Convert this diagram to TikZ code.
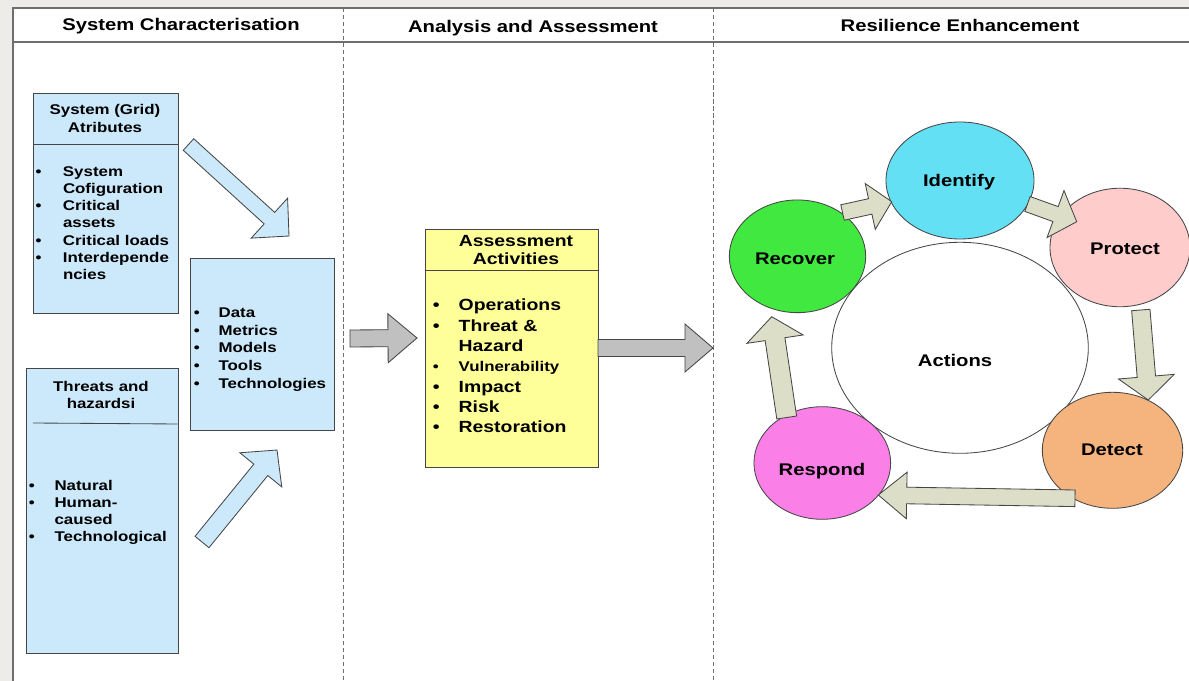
\documentclass[tikz,border=0pt]{standalone}
\usepackage{fontspec}
\setmainfont{Liberation Sans}[FakeStretch=1.2]
\usetikzlibrary{shapes.geometric,calc}
\definecolor{bgray}{RGB}{237,236,233}
\definecolor{framec}{RGB}{110,110,110}
\definecolor{boxl}{RGB}{70,70,70}
\definecolor{lblue}{RGB}{204,233,251}
\definecolor{lyellow}{RGB}{255,255,153}
\definecolor{garrow}{RGB}{192,192,192}
\definecolor{rarrow}{RGB}{220,222,200}
\definecolor{cIdent}{RGB}{100,224,245}
\definecolor{cProt}{RGB}{255,204,204}
\definecolor{cRec}{RGB}{64,232,64}
\definecolor{cDet}{RGB}{245,180,125}
\definecolor{cResp}{RGB}{250,128,232}
\newcommand\pxu{0.025cm}
\newcommand\barrow[6][]{%
  \pgfmathsetlengthmacro\baH{#4*0.7113pt}%
  \pgfmathsetlengthmacro\baW{#5*0.7113pt}%
  \pgfmathsetlengthmacro\baL{#6*0.7113pt}%
  \coordinate (ba-b) at ($(#3)!\baL!(#2)$);
  \draw[#1] ($(#2)!\baH!90:(#3)$) -- ($(ba-b)!\baH!90:(#3)$) -- ($(ba-b)!\baW!90:(#3)$) -- (#3)
    -- ($(ba-b)!\baW!-90:(#3)$) -- ($(ba-b)!\baH!-90:(#3)$) -- ($(#2)!\baH!-90:(#3)$) -- cycle;}
\newcommand\blist[2]{\begin{tabular}[t]{@{}p{#1}@{}l@{}}#2\end{tabular}}
\tikzset{
  frame/.style={draw=framec, line width=0.8pt},
  dashline/.style={draw=framec, line width=0.6pt, dash pattern=on 3pt off 2pt},
  box/.style={draw=boxl, line width=0.6pt, anchor=north west, inner sep=0pt},
  sepline/.style={draw=boxl, line width=0.6pt},
  head/.style={anchor=base, inner sep=0pt, font=\fontsize{12}{14}\selectfont\bfseries},
  ttl/.style={anchor=base, inner sep=0pt},
  lst/.style={anchor=base west, inner sep=0pt},
  bluearrow/.style={fill=lblue, draw=boxl, line width=0.6pt},
  grayarrow/.style={fill=garrow, draw=boxl, line width=0.6pt},
  ringarrow/.style={fill=rarrow, draw=boxl, line width=0.6pt},
  ell/.style={ellipse, draw=boxl, line width=0.6pt, inner sep=0pt},
  clabel/.style={anchor=base, inner sep=0pt, font=\fontsize{12}{14}\selectfont\bfseries}
}
\begin{document}
\begin{tikzpicture}[x=0.025cm,y=-0.025cm]
\useasboundingbox (0,0) rectangle (1189,681);
\fill[bgray] (0,0) rectangle (1189,681);
\fill[white] (13,8) rectangle (1189,681);
\draw[frame] (13,681) -- (13,8) -- (1189,8);
\draw[frame] (13,42) -- (1189,42);
\draw[dashline] (343,8) -- (343,681);
\draw[dashline] (713,8) -- (713,681);

% headers
\node[head] (h1) at (181,30.7) {System Characterisation};
\node[head] (h2) at (533,33) {Analysis and Assessment};
\node[head] (h3) at (960,32) {Resilience Enhancement};

% System attributes box
\node[box, fill=lblue, minimum width=144.4*\pxu, minimum height=220*\pxu] (attr) at (33.3,93.3) {};
\draw[sepline] (33.3,144.3) -- (177.7,144.3);
\node[ttl, font=\fontsize{10}{12.1}\selectfont\bfseries] (attrT) at (105,115)
  {\begin{tabular}[t]{@{}c@{}}System (Grid)\\Atributes\end{tabular}};
\node[lst, font=\fontsize{10}{12.15}\selectfont\bfseries] (attrL) at (35.3,176.7)
  {\blist{19.5pt}{\textbullet & System\\ & Cofiguration\\ \textbullet & Critical\\ & assets\\ \textbullet & Critical loads\\ \textbullet & Interdepende\\ & ncies}};

% Threats box
\node[box, fill=lblue, minimum width=152*\pxu, minimum height=285*\pxu] (thr) at (25.7,368.3) {};
\draw[sepline] (33,423) -- (177.7,424);
\node[ttl, font=\fontsize{10}{12.1}\selectfont\bfseries] (thrT) at (101,391.7)
  {\begin{tabular}[t]{@{}c@{}}Threats and\\hazardsi\end{tabular}};
\node[lst, font=\fontsize{10}{12.25}\selectfont\bfseries] (thrL) at (28.7,490)
  {\blist{18.2pt}{\textbullet & Natural\\ \textbullet & Human-\\ & caused\\ \textbullet & Technological}};

% Data box
\node[box, fill=lblue, minimum width=144.3*\pxu, minimum height=171.7*\pxu] (data) at (190,258.3) {};
\node[lst, font=\fontsize{10}{12.6}\selectfont\bfseries] (dataL) at (193.7,317.3)
  {\blist{17.5pt}{\textbullet & Data\\ \textbullet & Metrics\\ \textbullet & Models\\ \textbullet & Tools\\ \textbullet & Technologies}};

% Assessment box
\node[box, fill=lyellow, minimum width=172.7*\pxu, minimum height=237.7*\pxu] (assess) at (425,229) {};
\draw[sepline] (425,270) -- (597.7,270);
\node[ttl, font=\fontsize{11.5}{13}\selectfont\bfseries] (assessT) at (516,246.7)
  {\begin{tabular}[t]{@{}c@{}}Assessment\\Activities\end{tabular}};
\node[lst, font=\fontsize{11.5}{14.46}\selectfont\bfseries] (assessL) at (432.5,310.7)
  {\blist{18.4pt}{\textbullet & Operations\\ \textbullet & Threat \&\\ & Hazard\\ {\fontsize{10}{12}\selectfont\textbullet} & {\fontsize{10}{12}\selectfont Vulnerability}\\ \textbullet & Impact\\ \textbullet & Risk\\ \textbullet & Restoration}};

% left arrows
\coordinate (a1s) at (188.5,144.5); \coordinate (a1t) at (289,236);
\barrow[bluearrow]{a1s}{a1t}{7.8}{27}{26.5}
\coordinate (a2s) at (202,542); \coordinate (a2t) at (277,450);
\barrow[bluearrow]{a2s}{a2t}{9}{27}{25.6}
\coordinate (g1s) at (350,338.5); \coordinate (g1t) at (417,338);
\barrow[grayarrow]{g1s}{g1t}{8.5}{24.5}{29}
\coordinate (g2s) at (598,348); \coordinate (g2t) at (713,348);
\barrow[grayarrow]{g2s}{g2t}{8.5}{24}{28}

% ring
\node[ell, fill=white, minimum width=256.6*\pxu, minimum height=211*\pxu] (actions) at (960,347.8) {};
\node[ell, fill=cIdent, minimum width=148*\pxu, minimum height=117*\pxu] (identify) at (960,180.5) {};
\node[ell, fill=cProt, minimum width=140*\pxu, minimum height=118.5*\pxu] (protect) at (1120,247.5) {};
\node[ell, fill=cRec, minimum width=136.4*\pxu, minimum height=112.7*\pxu] (recover) at (797.5,256.3) {};
\node[ell, fill=cDet, minimum width=140.4*\pxu, minimum height=116*\pxu] (detect) at (1112.5,450.3) {};
\node[ell, fill=cResp, minimum width=136.7*\pxu, minimum height=112.6*\pxu] (respond) at (822.3,463) {};

\node[clabel] (identifyT) at (959,187) {Identify};
\node[clabel] (protectT) at (1125,255) {Protect};
\node[clabel] (recoverT) at (795,265) {Recover};
\node[clabel] (actionsT) at (955,366.7) {Actions};
\node[clabel] (detectT) at (1112,455) {Detect};
\node[clabel] (respondT) at (822,475) {Respond};

\coordinate (r1s) at (842.5,212.5); \coordinate (r1t) at (891.7,201.7);
\barrow[ringarrow]{r1s}{r1t}{7.9}{23.5}{22}
\coordinate (r2s) at (1027.5,204); \coordinate (r2t) at (1076.7,221.7);
\barrow[ringarrow]{r2s}{r2t}{7.9}{25}{22.5}
\coordinate (r3s) at (1140.8,310); \coordinate (r3t) at (1148.3,400);
\barrow[ringarrow]{r3s}{r3t}{9.2}{28}{23.4}
\coordinate (r4s) at (1075,498.3); \coordinate (r4t) at (878.3,495);
\barrow[ringarrow]{r4s}{r4t}{8.3}{23.3}{28.4}
\coordinate (r5s) at (786.7,417.5); \coordinate (r5t) at (771.7,316.7);
\barrow[ringarrow]{r5s}{r5t}{10}{28.4}{22.7}
\end{tikzpicture}
\end{document}
